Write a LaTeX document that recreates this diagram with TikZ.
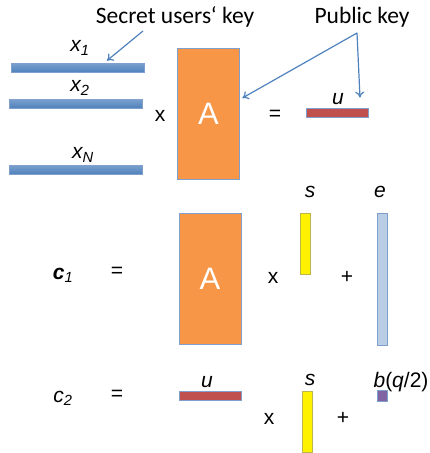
\documentclass[tikz,border=0pt]{standalone}
\usepackage{fontspec}
\setmainfont{Liberation Sans}
\newfontfamily\keyfont{Carlito}
\usetikzlibrary{arrows.meta}

\definecolor{keyblue}{HTML}{4F81BD}
\definecolor{rimblue}{HTML}{7F9FCC}
\definecolor{matorange}{HTML}{F79646}
\definecolor{pubred}{HTML}{C0504D}
\definecolor{errblue}{HTML}{B9CDE5}
\definecolor{msgpurple}{HTML}{8064A2}

\tikzset{
  vec/.style={draw=rimblue, line width=0.8pt, inner sep=0pt},
  rowvec/.style={vec, minimum width=133pt, minimum height=9pt,
    top color=keyblue!75, bottom color=keyblue},
  matA/.style={vec, fill=matorange, minimum width=62pt, minimum height=131pt,
    text=white, font=\fontsize{31}{31}\selectfont},
  uvec/.style={vec, fill=pubred, minimum width=62pt, minimum height=9pt},
  svec/.style={vec, draw=olive!60, fill=yellow, minimum width=10pt, minimum height=61pt},
  evec/.style={vec, fill=errblue, minimum width=10pt, minimum height=132pt},
  lbl/.style={font=\fontsize{21}{21}\selectfont\itshape},
  op/.style={font=\fontsize{21}{21}\selectfont},
  keylbl/.style={font=\keyfont\fontsize{23.5}{23.5}\selectfont},
  pointer/.style={draw=keyblue, line width=1.2pt, -{To[length=6pt,width=9pt]}}
}

\begin{document}
\begin{tikzpicture}[x=1pt, y=-1pt]
  \useasboundingbox (0,0) rectangle (429,453);

  % secret keys x A = u
  \node[keylbl] (secret) at (175,17) {Secret users‘ key};
  \node[keylbl] (public) at (362,17) {Public key};

  \node[rowvec] (x1) at (77.5,67.5) {};
  \node[rowvec] (x2) at (75.5,103.5) {};
  \node[rowvec] (xN) at (75.5,169.5) {};
  \node[lbl] (x1l) at (80,48) {x\textsubscript{1}};
  \node[lbl] (x2l) at (80,88) {x\textsubscript{2}};
  \node[lbl] (xNl) at (83,155) {x\textsubscript{N}};

  \node[op] (times0) at (160,116) {x};
  \node[matA] (A1) at (208.5,113.5) {A};
  \node[op] (eq0) at (275,115) {=};
  \node[uvec] (u1) at (337,112.5) {};
  \node[lbl] (u1l) at (338,99) {u};

  \coordinate (sk) at (143,31);
  \coordinate (pk) at (357,33);
  \draw[pointer] (sk) -- ([shift={(29.5,-2)}]x1.north);
  \draw[pointer] (pk) -- ([shift={(2.5,-15.5)}]A1.east);
  \draw[pointer] (pk) -- ([shift={(23,-10)}]u1.north);

  % c1 = A x s + e
  \node[lbl] (c1) at (63,275) {\bfseries c\textsubscript{\mdseries 1}};
  \node[op] (eq1) at (117,272) {=};
  \node[matA] (A2) at (210,278.5) {A};
  \node[op] (times1) at (273,278) {x};
  \node[svec] (s1) at (305,243.5) {};
  \node[lbl] (s1l) at (310,192) {s};
  \node[op] (plus1) at (347,277) {+};
  \node[evec] (e1) at (382,279) {};
  \node[lbl] (e1l) at (380,192) {e};

  % c2 = u x s + b(q/2)
  \node[lbl] (c2) at (63,398) {c\textsubscript{2}};
  \node[op] (eq2) at (117,395) {=};
  \node[uvec] (u2) at (210,396) {};
  \node[lbl] (u2l) at (207,382) {u};
  \node[op] (times2) at (269,419) {x};
  \node[svec] (s2) at (307,421.5) {};
  \node[lbl] (s2l) at (310,380) {s};
  \node[op] (plus2) at (343,418) {+};
  \node[vec, fill=msgpurple, minimum width=10pt, minimum height=11pt] (bit) at (382,395.5) {};
  \node[op] (bitl) at (401,382) {\textit{b}(\textit{q}/2)};
\end{tikzpicture}
\end{document}
